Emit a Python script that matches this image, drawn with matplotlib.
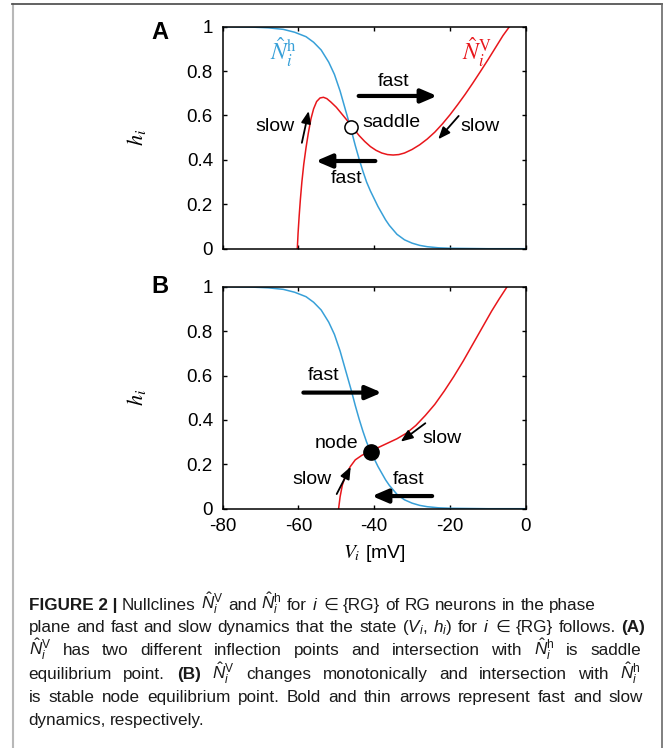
import matplotlib
matplotlib.use("Agg")
import matplotlib.pyplot as plt
from matplotlib import font_manager
from matplotlib.lines import Line2D

# --- data ---
# h-nullcline (same in both panels)
v_hnull = [-80, -72, -68, -64, -61, -58, -56, -54, -52, -50.5, -49, -48, -47, -46, -45,
           -44, -43, -42, -41, -40, -39, -38, -37, -36, -35, -34, -32, -30, -28, -26,
           -23, -20, -10, 0]
h_hnull = [1.0, 0.998, 0.995, 0.988, 0.975, 0.955, 0.93, 0.895, 0.84, 0.785, 0.71, 0.65,
           0.59, 0.53, 0.465, 0.405, 0.35, 0.3, 0.26, 0.225, 0.19, 0.16, 0.13, 0.105,
           0.085, 0.065, 0.04, 0.025, 0.015, 0.009, 0.004, 0.002, 0.0, 0.0]

# V-nullcline, panel A (two inflection points)
v_vnull_a = [-60.3, -60.1, -59.8, -59.5, -59.1, -58.6, -58.0, -57.4, -56.7, -56.0, -55.2,
             -54.3, -53.4, -52.5, -51.4, -50.0, -48.5, -47.0, -45.5, -44.0, -42.5, -41.0,
             -39.5, -38.0, -36.5, -35.0, -33.5, -32.0, -30.0, -28.0, -26.0, -24.0, -22.0,
             -20.0, -18.0, -16.0, -14.0, -12.0, -10.0, -8.0, -6.0, -4.3]
h_vnull_a = [0.0, 0.07, 0.15, 0.22, 0.30, 0.38, 0.455, 0.52, 0.585, 0.63, 0.663,
             0.679, 0.682, 0.676, 0.66, 0.637, 0.606, 0.575, 0.542, 0.51, 0.483, 0.46,
             0.443, 0.431, 0.424, 0.422, 0.424, 0.431, 0.447, 0.468, 0.494, 0.525, 0.562,
             0.603, 0.648, 0.695, 0.745, 0.797, 0.85, 0.905, 0.96, 1.0]

# V-nullcline, panel B (monotonic)
v_vnull_b = [-49.4, -49.0, -48.4, -47.5, -46.3, -45.0, -43.3, -41.3, -39.0, -36.5, -34.0,
             -31.5, -29.0, -26.5, -24.0, -21.5, -19.0, -16.5, -14.0, -11.5, -9.0, -7.0, -4.9]
h_vnull_b = [0.0, 0.054, 0.107, 0.152, 0.19, 0.22, 0.24, 0.257, 0.275, 0.295, 0.315,
             0.34, 0.375, 0.42, 0.47, 0.53, 0.595, 0.665, 0.74, 0.815, 0.89, 0.945, 1.0]

saddle = (-46.1, 0.55)
node = (-40.9, 0.257)

# arrows: (tail, head)
fast_a = [((-44.1, 0.688), (-23.4, 0.688)), ((-39.7, 0.395), (-55.4, 0.395))]
slow_a = [((-59.1, 0.477), (-57.3, 0.62)), ((-17.7, 0.598), (-23.1, 0.493))]
fast_b = [((-58.7, 0.523), (-38.0, 0.523)), ((-24.7, 0.057), (-40.6, 0.057))]
slow_b = [((-49.9, 0.066), (-46.2, 0.189)), ((-26.5, 0.385), (-33.0, 0.302))]

xticks = [-80, -60, -40, -20, 0]
yticks = [0, 0.2, 0.4, 0.6, 0.8, 1]
ytick_labels = ["0", "0.2", "0.4", "0.6", "0.8", "1"]

BLUE = "#38a0d8"
RED = "#e8161b"

names = {f.name for f in font_manager.fontManager.ttflist}
cap_font = "Liberation Sans Narrow" if "Liberation Sans Narrow" in names else "Liberation Sans"

plt.rcParams["font.family"] = ["Liberation Sans", "DejaVu Sans"]
plt.rcParams["axes.unicode_minus"] = False
plt.rcParams["mathtext.fontset"] = "custom"
plt.rcParams["mathtext.rm"] = cap_font
plt.rcParams["mathtext.it"] = cap_font + ":italic"
plt.rcParams["mathtext.bf"] = cap_font + ":bold"

W, H = 671, 748
fig = plt.figure(figsize=(W / 100, H / 100), dpi=100)


def px_axes(left, top, right, bottom):
    return fig.add_axes([left / W, 1 - bottom / H, (right - left) / W, (bottom - top) / H])


def style_axes(ax, xlabels):
    ax.set_xlim(-80, 0)
    ax.set_ylim(0, 1)
    ax.set_xticks(xticks)
    ax.set_yticks(yticks)
    ax.set_yticklabels(ytick_labels)
    if not xlabels:
        ax.set_xticklabels([])
    ax.tick_params(direction="in", top=True, right=True, length=3, width=1,
                   labelsize=13.5, colors="black")
    ax.tick_params(axis="y", pad=7)
    ax.tick_params(axis="x", pad=7)
    for s in ax.spines.values():
        s.set_linewidth(1.1)
    ax.set_ylabel(r"$h_i$", math_fontfamily="stix", fontsize=16)
    ax.yaxis.set_label_coords(-0.246, 0.5)


def arrow(ax, tail, head, bold):
    if bold:
        style, lw, ms = "-|>,head_length=0.63,head_width=0.27", 3.0, 15
    else:
        style, lw, ms = "-|>,head_length=0.72,head_width=0.29", 1.3, 10
    ax.annotate("", xy=head, xytext=tail,
                arrowprops=dict(arrowstyle=style, lw=lw, color="black",
                                shrinkA=0, shrinkB=0, mutation_scale=ms))


txt = dict(fontsize=14, color="black")
lab = dict(fontsize=17, math_fontfamily="stix", ha="center", va="center")

# ---- panel A ----
ax_a = px_axes(222.7, 26.7, 525.7, 248.7)
style_axes(ax_a, False)
ax_a.plot(v_hnull, h_hnull, color=BLUE, lw=1.1)
ax_a.plot(v_vnull_a, h_vnull_a, color=RED, lw=1.1)
for tail, head in fast_a:
    arrow(ax_a, tail, head, True)
for tail, head in slow_a:
    arrow(ax_a, tail, head, False)
ax_a.plot(*saddle, "o", ms=9.5, mfc="white", mec="black", mew=1.1, zorder=5)
ax_a.text(-34.9, 0.752, "fast", ha="center", va="center", **txt)
ax_a.text(-47.4, 0.317, "fast", ha="center", va="center", **txt)
ax_a.text(-60.9, 0.55, "slow", ha="right", va="center", **txt)
ax_a.text(-17.2, 0.55, "slow", ha="left", va="center", **txt)
ax_a.text(-43.0, 0.567, "saddle", ha="left", va="center", **txt)
ax_a.text(-64.0, 0.887, r"$\hat{N}_i^{\mathrm{h}}$", color=BLUE, **lab)
ax_a.text(-12.8, 0.887, r"$\hat{N}_i^{\mathrm{V}}$", color=RED, **lab)

# ---- panel B ----
ax_b = px_axes(222.7, 286.7, 525.7, 508.7)
style_axes(ax_b, True)
ax_b.plot(v_hnull, h_hnull, color=BLUE, lw=1.1)
ax_b.plot(v_vnull_b, h_vnull_b, color=RED, lw=1.1)
for tail, head in fast_b:
    arrow(ax_b, tail, head, True)
for tail, head in slow_b:
    arrow(ax_b, tail, head, False)
ax_b.plot(*node, "o", ms=11, mfc="black", mec="black", zorder=5)
ax_b.text(-53.4, 0.598, "fast", ha="center", va="center", **txt)
ax_b.text(-30.9, 0.132, "fast", ha="center", va="center", **txt)
ax_b.text(-51.2, 0.132, "slow", ha="right", va="center", **txt)
ax_b.text(-27.2, 0.317, "slow", ha="left", va="center", **txt)
ax_b.text(-44.1, 0.294, "node", ha="right", va="center", **txt)
ax_b.set_xlabel(r"$V_i$ [mV]", math_fontfamily="stix", fontsize=14, va="center")
ax_b.xaxis.set_label_coords(0.5, -0.2)

fig.text(160 / W, 1 - 32.7 / H, "A", fontsize=17, fontweight="bold", ha="center", va="center")
fig.text(160 / W, 1 - 286.7 / H, "B", fontsize=17, fontweight="bold", ha="center", va="center")

# ---- frame ----
fig.add_artist(Line2D([12.7 / W, 12.7 / W], [1 - 4.3 / H, 0], transform=fig.transFigure,
                      color="#b8b8b8", lw=1.5))
fig.add_artist(Line2D([12.3 / W, 661.7 / W], [1 - 4.3 / H, 1 - 4.3 / H], transform=fig.transFigure,
                      color="#555555", lw=1.3))
fig.add_artist(Line2D([661.7 / W, 661.7 / W], [1 - 4.3 / H, 0], transform=fig.transFigure,
                      color="#6a6a6a", lw=1.2))

# ---- caption ----
NV = r"$\hat{N}_i^{\mathrm{V}}$"
Nh = r"$\hat{N}_i^{\mathrm{h}}$"
caption = [
    ([("FIGURE 2 |", "bold"), "Nullclines", NV, "and", Nh, "for", "$i$", "\u2208", "{RG}",
      "of", "RG", "neurons", "in", "the", "phase"], 610, 596),
    (["plane", "and", "fast", "and", "slow", "dynamics", "that", "the", "state", r"($V_i$,",
      r"$h_i$)", "for", "$i$", "\u2208", "{RG}", "follows.", ("(A)", "bold")], 632, 645),
    ([NV, "has", "two", "different", "inflection", "points", "and", "intersection", "with",
      Nh, "is", "saddle"], 655, 641),
    (["equilibrium", "point.", ("(B)", "bold"), NV, "changes", "monotonically", "and",
      "intersection", "with", Nh], 679, 641),
    (["is", "stable", "node", "equilibrium", "point.", "Bold", "and", "thin", "arrows",
      "represent", "fast", "and", "slow"], 702, 643),
    (["dynamics,", "respectively."], 725, None),
]

renderer = fig.canvas.get_renderer()
cap_size = 12.3
x0 = 28.5
for tokens, y, x1 in caption:
    texts = []
    for tok in tokens:
        s, w = tok if isinstance(tok, tuple) else (tok, "normal")
        texts.append(fig.text(0, 1 - y / H, s, fontsize=cap_size, fontweight=w,
                              family=[cap_font, "DejaVu Sans"], va="baseline", ha="left",
                              color="#1a1a1a"))
    widths = [t.get_window_extent(renderer).width for t in texts]
    if x1 is None:
        gap = 0.26 * cap_size * 100 / 72
    else:
        gap = (x1 - x0 - sum(widths)) / (len(texts) - 1)
    x = x0
    for t, wd in zip(texts, widths):
        t.set_x(x / W)
        x += wd + gap

fig.savefig("out.png", dpi=100)
